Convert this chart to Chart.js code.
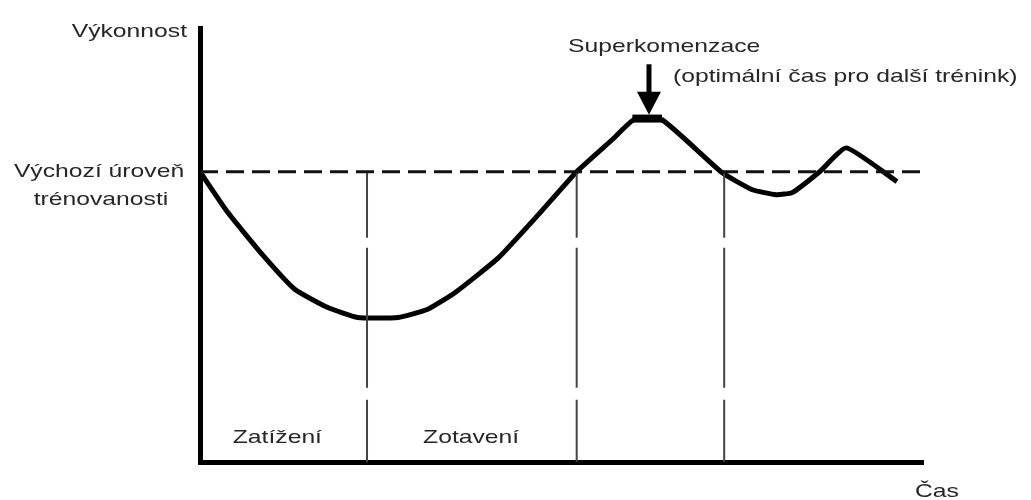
<!DOCTYPE html>
<html>
<head>
<meta charset="utf-8">
<script src="https://cdn.jsdelivr.net/npm/chart.js@4"></script>
<style>
  body { margin: 0; background: #fff; }
  #wrap { width: 1031px; height: 500px; }
</style>
</head>
<body>
<div id="wrap"><canvas id="superChart" width="1031" height="500"></canvas></div>
<script>
// time (0-100) vs. performance (baseline = 100)
const curveX = [0, 3.75, 8.6, 13.1, 17.6, 21.8, 27.4, 31.5, 35.3, 41.3, 46.8, 52.1, 57.0, 60.0, 63.9, 72.2, 76.4, 79.7, 81.9, 85.7, 89.4, 96.4];
const curveY = [100, 86.3, 71.5, 59.5, 53.3, 49.8, 49.8, 52.6, 58.4, 70.4, 85.2, 100, 111.0, 117.9, 117.9, 99.7, 93.8, 92.1, 92.8, 100, 108.2, 96.6];

const baselineLevel = 100;
const baselineX = [0, 100];
const phaseX = [23.1, 52.1, 72.5];
const peakBarX = [59.8, 63.9];
const peakBarY = 118.3;
const arrowX = 62.1;
const arrowFrom = 137;
const arrowTo = 119.6;

const yLabel = "Výkonnost";
const xLabel = "Čas";
const baselineLabel = ["Výchozí úroveň", "trénovanosti"];
const peakLabel = ["Superkomenzace", "(optimální čas pro další trénink)"];
const phaseLabels = ["Zatížení", "Zotavení"];

const curve = curveX.map((x, i) => ({ x: x, y: curveY[i] }));

const datasets = [
  {
    label: "baseline",
    data: baselineX.map((x) => ({ x: x, y: baselineLevel })),
    borderColor: "#111",
    borderWidth: 3,
    borderDash: [18, 8],
    pointRadius: 0,
  },
];
phaseX.forEach((x) => {
  datasets.push({
    label: "phase",
    data: [{ x: x, y: baselineLevel }, { x: x, y: 0 }],
    borderColor: "#444",
    borderWidth: 2,
    borderDash: [66, 10, 140, 12, 90],
    pointRadius: 0,
  });
});
datasets.push({
  label: "curve",
  data: curve,
  borderColor: "#000",
  borderWidth: 5,
  pointRadius: 0,
  tension: 0.15,
  borderJoinStyle: "round",
});
datasets.push({
  label: "peak",
  data: peakBarX.map((x) => ({ x: x, y: peakBarY })),
  borderColor: "#000",
  borderWidth: 8,
  pointRadius: 0,
});

function stretchText(ctx, text, x, y, align) {
  ctx.save();
  ctx.translate(x, y);
  ctx.scale(1.3, 1);
  ctx.textAlign = align;
  ctx.fillText(text, 0, 0);
  ctx.restore();
}

const annotations = {
  id: "annotations",
  afterDatasetsDraw(chart) {
    const ctx = chart.ctx;
    const xs = chart.scales.x;
    const ys = chart.scales.y;

    // arrow to the supercompensation peak
    const ax = xs.getPixelForValue(arrowX);
    const top = ys.getPixelForValue(arrowFrom);
    const tip = ys.getPixelForValue(arrowTo);
    ctx.save();
    ctx.fillStyle = "#000";
    ctx.strokeStyle = "#000";
    ctx.lineWidth = 5;
    ctx.beginPath();
    ctx.moveTo(ax, top);
    ctx.lineTo(ax, tip - 18);
    ctx.stroke();
    ctx.beginPath();
    ctx.moveTo(ax - 12, tip - 23);
    ctx.lineTo(ax + 12, tip - 23);
    ctx.lineTo(ax, tip);
    ctx.closePath();
    ctx.fill();
    ctx.restore();

    // texts
    ctx.save();
    ctx.fillStyle = "#262626";
    ctx.font = "19px 'Liberation Sans', Arial, sans-serif";
    ctx.textBaseline = "alphabetic";
    stretchText(ctx, yLabel, 187, 37, "right");
    stretchText(ctx, baselineLabel[0], 99, 177, "center");
    stretchText(ctx, baselineLabel[1], 101, 205, "center");
    stretchText(ctx, peakLabel[0], 568, 52, "left");
    stretchText(ctx, peakLabel[1], 673, 82, "left");
    stretchText(ctx, phaseLabels[0], xs.getPixelForValue(10.7), 443, "center");
    stretchText(ctx, phaseLabels[1], xs.getPixelForValue(37.5), 443, "center");
    stretchText(ctx, xLabel, 915, 497, "left");
    ctx.restore();
  },
};

new Chart(document.getElementById("superChart").getContext("2d"), {
  type: "line",
  data: { datasets: datasets },
  options: {
    responsive: false,
    animation: false,
    layout: { padding: { left: 192, right: 108, top: 28, bottom: 30 } },
    scales: {
      x: {
        type: "linear",
        min: 0,
        max: 100,
        grid: { display: false },
        ticks: { display: false },
        border: { display: true, width: 5, color: "#000" },
      },
      y: {
        type: "linear",
        min: 0,
        max: 149.5,
        grid: { display: false },
        ticks: { display: false },
        border: { display: true, width: 5, color: "#000" },
      },
    },
    plugins: {
      legend: { display: false },
      tooltip: { enabled: false },
    },
  },
  plugins: [annotations],
});
</script>
</body>
</html>
